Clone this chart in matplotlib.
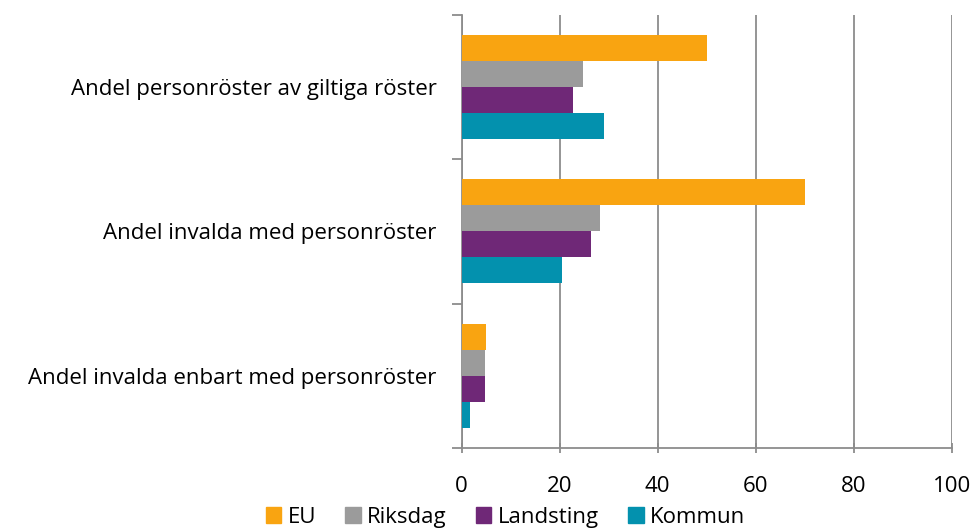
import numpy as np
import matplotlib.pyplot as plt
from matplotlib.patches import Patch

plt.rcParams['font.family'] = ['Open Sans', 'DejaVu Sans']

kategorier = ['Andel personröster av giltiga röster',
              'Andel invalda med personröster',
              'Andel invalda enbart med personröster']
serier = ['EU', 'Riksdag', 'Landsting', 'Kommun']
eu = [50, 70, 5]
riksdag = [24.7, 28.2, 4.8]
landsting = [22.7, 26.5, 4.8]
kommun = [29, 20.5, 1.8]
farger = ['#F9A411', '#9B9B9B', '#6F2877', '#0391AE']

fig = plt.figure(figsize=(9.76, 5.32), dpi=100)
ax = fig.add_axes([0.473, 0.158, 0.502, 0.814])

y = np.arange(len(kategorier))
h = 0.18
for i, (vals, c) in enumerate(zip([eu, riksdag, landsting, kommun], farger)):
    ax.barh(y - 1.5 * h + i * h, vals, height=h, color=c, zorder=3)

ax.set_xlim(0, 100)
ax.set_ylim(len(kategorier) - 0.5, -0.5)
ax.set_xticks(range(0, 101, 20))
ax.xaxis.grid(True, color='#8C8C8C', linewidth=1.3, zorder=0)

# kategorietiketter mellan tickmarkeringarna
ax.set_yticks(np.arange(-0.5, len(kategorier), 1))
ax.set_yticklabels([])
ax.set_yticks(y, minor=True)
ax.set_yticklabels(kategorier, minor=True, fontsize=16)
ax.tick_params(axis='y', which='minor', length=0, pad=18)
ax.tick_params(axis='y', which='major', length=7, color='#8C8C8C', width=1.3)
ax.tick_params(axis='x', length=7, direction='inout', color='#8C8C8C', width=1.3,
               labelsize=16, pad=17)

for s in ['top', 'right']:
    ax.spines[s].set_visible(False)
for s in ['left', 'bottom']:
    ax.spines[s].set_color('#8C8C8C')
    ax.spines[s].set_linewidth(1.3)

handles = [Patch(color=c, label=s) for s, c in zip(serier, farger)]
fig.legend(handles=handles, loc='center', bbox_to_anchor=(0.518, 0.028), ncol=4,
           frameon=False, fontsize=16, handlelength=0.7, handleheight=0.7,
           handletextpad=0.3, columnspacing=1.3, borderpad=0)

fig.savefig('out.png', dpi=100)
